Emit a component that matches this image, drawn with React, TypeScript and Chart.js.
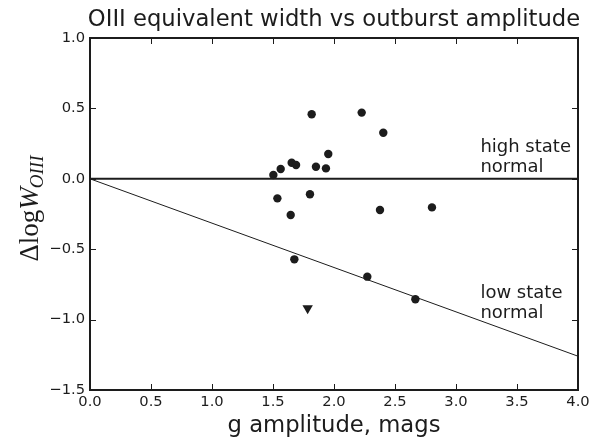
import { useEffect, useRef } from 'react';
import { Chart, registerables } from 'chart.js';

Chart.register(...registerables);

// g amplitude (mags) and Delta log W_OIII for the measured objects
const amplitude = [1.817, 2.227, 2.404, 1.953, 1.653, 1.689, 1.563, 1.503, 1.852, 1.934, 1.536, 1.803, 1.645, 2.377, 2.803, 1.675, 2.273, 2.667];
const deltaLogW = [0.458, 0.470, 0.327, 0.176, 0.114, 0.098, 0.070, 0.027, 0.086, 0.074, -0.139, -0.110, -0.257, -0.222, -0.203, -0.572, -0.695, -0.856];

// upper limit (downward triangle)
const limitAmplitude = [1.784];
const limitDeltaLogW = [-0.92];

// reference relations
const highStateX = [0, 4];
const highStateY = [0, 0];
const lowStateX = [0, 4];
const lowStateY = [0, -1.26];

// text labels placed in data coordinates
const noteX = [3.2, 3.2];
const noteY = [0.19, -0.85];
const noteLines = [['high state', 'normal'], ['low state', 'normal']];

const xMin = 0, xMax = 4, xStep = 0.5;
const yMin = -1.5, yMax = 1.0, yStep = 0.5;

const titleText = 'OIII equivalent width vs outburst amplitude';
const xLabelText = 'g amplitude, mags';

const INK = '#1c1c1c';
const SANS = '"DejaVu Sans", sans-serif';
const SERIF = '"Liberation Serif", serif';

const fmt = (v: number | string) => Number(v).toFixed(1).replace('-', '\u2212');

const decorPlugin = {
  id: 'decor',
  afterDatasetsDraw(chart: any) {
    const { ctx, chartArea } = chart;
    const { left, right, top, bottom } = chartArea;
    const xs = chart.scales.x;
    const ys = chart.scales.y;
    ctx.save();
    // frame
    ctx.strokeStyle = INK;
    ctx.lineWidth = 2;
    ctx.strokeRect(left, top, right - left, bottom - top);
    // inward ticks
    ctx.lineWidth = 1;
    const tl = 6;
    ctx.beginPath();
    for (let v = xMin; v <= xMax + 1e-9; v += xStep) {
      const px = Math.round(xs.getPixelForValue(v)) + 0.5;
      ctx.moveTo(px, bottom);
      ctx.lineTo(px, bottom - tl);
      ctx.moveTo(px, top);
      ctx.lineTo(px, top + tl);
    }
    for (let v = yMin; v <= yMax + 1e-9; v += yStep) {
      const py = Math.round(ys.getPixelForValue(v)) + 0.5;
      ctx.moveTo(left, py);
      ctx.lineTo(left + tl, py);
      ctx.moveTo(right, py);
      ctx.lineTo(right - tl, py);
    }
    ctx.stroke();

    ctx.fillStyle = INK;
    // title
    ctx.font = `22.7px ${SANS}`;
    ctx.textAlign = 'center';
    ctx.textBaseline = 'alphabetic';
    ctx.fillText(titleText, (left + right) / 2, 26);
    // x label
    ctx.fillText(xLabelText, (left + right) / 2, 432);

    // notes
    ctx.font = `18px ${SANS}`;
    ctx.textAlign = 'left';
    noteLines.forEach((lines, i) => {
      const px = xs.getPixelForValue(noteX[i]);
      const py = ys.getPixelForValue(noteY[i]);
      lines.forEach((t, j) => ctx.fillText(t, px, py + j * 20));
    });

    // y label: \Delta \log W_{OIII}
    const size = 27;
    const sub = Math.round(size * 0.7);
    const parts = [
      { t: '\u0394log', f: `${size}px ${SERIF}`, dy: 0 },
      { t: 'W', f: `italic ${size}px ${SERIF}`, dy: 0 },
      { t: 'OIII', f: `italic ${sub}px ${SERIF}`, dy: size * 0.2 },
    ];
    let total = 0;
    const widths = parts.map((p) => {
      ctx.font = p.f;
      const w = ctx.measureText(p.t).width;
      total += w;
      return w;
    });
    ctx.translate(38, (top + bottom) / 2 - 6);
    ctx.rotate(-Math.PI / 2);
    let cx = -total / 2;
    parts.forEach((p, i) => {
      ctx.font = p.f;
      ctx.fillText(p.t, cx, p.dy);
      cx += widths[i] - (i === 1 ? 1 : 0);
    });
    ctx.restore();
  },
};

export default function App() {
  const ref = useRef<HTMLCanvasElement | null>(null);

  useEffect(() => {
    if (!ref.current) return;
    const chart = new Chart(ref.current, {
      type: 'scatter',
      data: {
        datasets: [
          {
            label: 'high state',
            data: highStateX.map((x, i) => ({ x, y: highStateY[i] })),
            showLine: true,
            borderColor: INK,
            borderWidth: 2,
            pointRadius: 0,
          },
          {
            label: 'low state',
            data: lowStateX.map((x, i) => ({ x, y: lowStateY[i] })),
            showLine: true,
            borderColor: INK,
            borderWidth: 1,
            pointRadius: 0,
          },
          {
            label: 'objects',
            data: amplitude.map((x, i) => ({ x, y: deltaLogW[i] })),
            pointStyle: 'circle',
            pointRadius: 4.2,
            backgroundColor: INK,
            borderColor: INK,
            borderWidth: 0,
          },
          {
            label: 'limit',
            data: limitAmplitude.map((x, i) => ({ x, y: limitDeltaLogW[i] })),
            pointStyle: 'triangle',
            rotation: 180,
            pointRadius: 6,
            backgroundColor: INK,
            borderColor: INK,
            borderWidth: 0,
          },
        ],
      },
      options: {
        animation: false,
        responsive: false,
        devicePixelRatio: 1,
        layout: { padding: { top: 38, right: 24, left: 0, bottom: 0 } },
        plugins: {
          legend: { display: false },
          tooltip: { enabled: false },
          title: { display: false },
        },
        scales: {
          x: {
            type: 'linear',
            min: xMin,
            max: xMax,
            grid: { display: false, drawTicks: false },
            border: { display: false },
            ticks: {
              stepSize: xStep,
              padding: 3,
              color: INK,
              font: { family: SANS, size: 14.7 },
              callback: (v: any) => fmt(v),
              maxRotation: 0,
              autoSkip: false,
            },
            afterFit: (s: any) => { s.height = 51; },
          },
          y: {
            type: 'linear',
            min: yMin,
            max: yMax,
            grid: { display: false, drawTicks: false },
            border: { display: false },
            ticks: {
              stepSize: yStep,
              padding: 5,
              color: INK,
              font: { family: SANS, size: 14.7 },
              callback: (v: any) => fmt(v),
              autoSkip: false,
            },
            afterFit: (s: any) => { s.width = 90; },
          },
        },
      },
      plugins: [decorPlugin],
    });
    return () => chart.destroy();
  }, []);

  return (
    <div style={{ position: 'fixed', left: 0, top: 0, width: 602, height: 441, background: '#fff' }}>
      <canvas ref={ref} width={602} height={441} style={{ display: 'block' }} />
    </div>
  );
}
